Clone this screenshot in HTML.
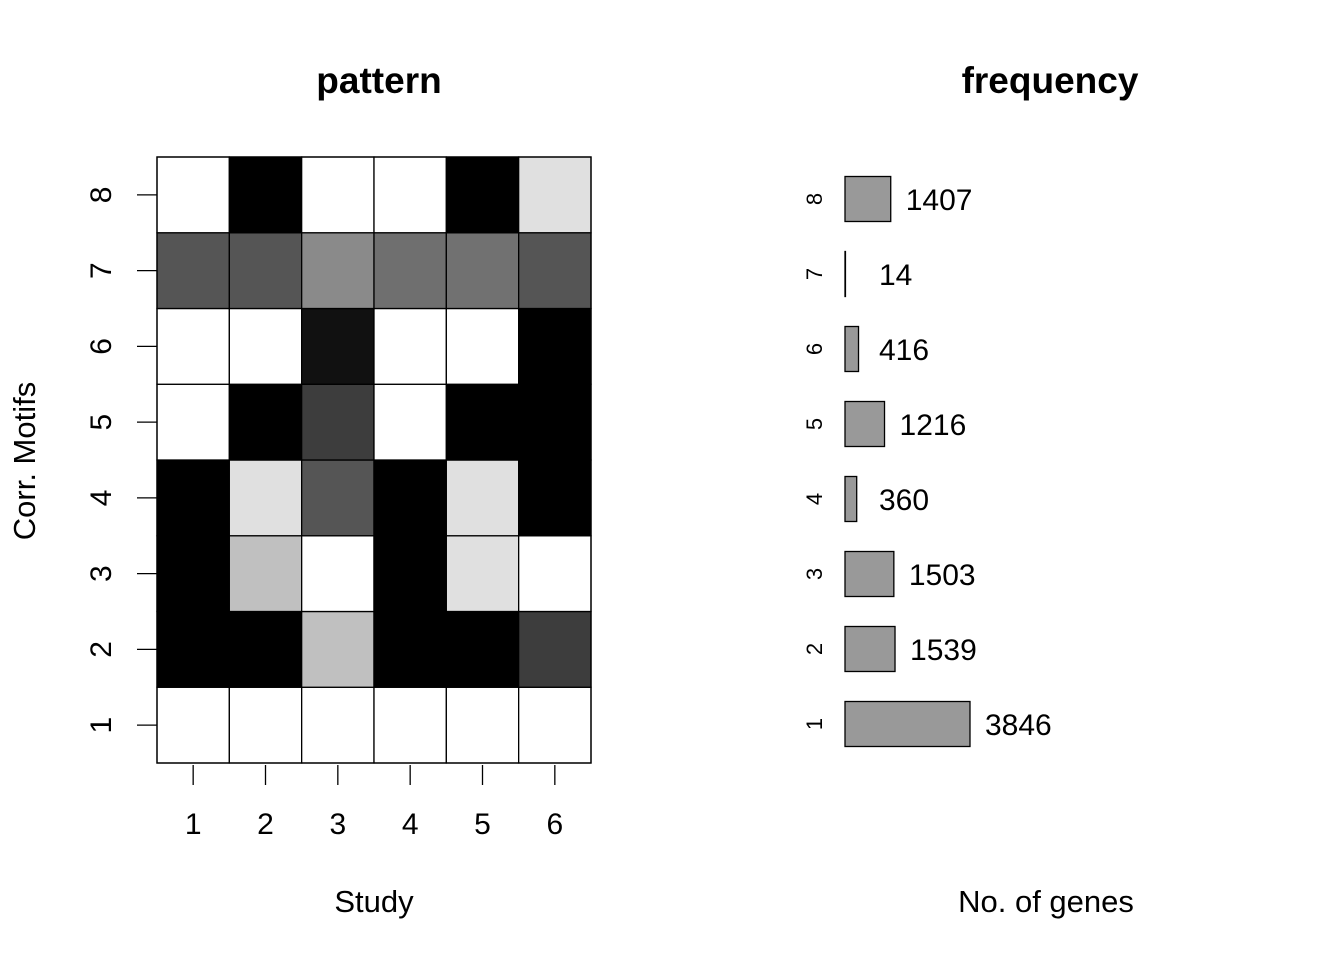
<!DOCTYPE html>
<html><head><meta charset="utf-8"><style>
body{margin:0;background:#fff;}
svg text{font-family:"Liberation Sans",Arial,sans-serif;fill:#000;}
</style></head><body>
<svg id="chart" width="1344" height="960" xmlns="http://www.w3.org/2000/svg">
<rect width="1344" height="960" fill="#fff"/>
<text x="379" y="93" font-size="37" font-weight="bold" text-anchor="middle">pattern</text>
<text x="1050" y="93" font-size="37" font-weight="bold" text-anchor="middle">frequency</text>
<text x="374" y="912" font-size="31" text-anchor="middle">Study</text>
<text x="1046" y="912" font-size="31" text-anchor="middle">No. of genes</text>
<text transform="translate(35,461) rotate(-90)" font-size="31" text-anchor="middle">Corr. Motifs</text>
<g id="heat"></g>
<g id="freq"></g>
</svg>
<script>
const studies=[1,2,3,4,5,6];
const motifs=[1,2,3,4,5,6,7,8];
const grayRow1=[255,255,255,255,255,255];
const grayRow2=[0,0,192,0,0,61];
const grayRow3=[0,192,255,0,224,255];
const grayRow4=[0,224,85,0,224,0];
const grayRow5=[255,0,61,255,0,0];
const grayRow6=[255,255,17,255,255,0];
const grayRow7=[85,85,138,111,113,85];
const grayRow8=[255,0,255,255,0,224];
const grays=[grayRow1,grayRow2,grayRow3,grayRow4,grayRow5,grayRow6,grayRow7,grayRow8];
const counts=[3846,1539,1503,360,1216,416,14,1407];
const NS="http://www.w3.org/2000/svg";
function mk(t,a,p){const e=document.createElementNS(NS,t);for(const k in a)e.setAttribute(k,a[k]);p.appendChild(e);return e;}
const L=157,R=591,T=157,B=763;
const cw=(R-L)/studies.length, ch=(B-T)/motifs.length;
const xs=i=>L+cw*i, ys=j=>B-ch*(j+1);
const heat=document.getElementById('heat');
motifs.forEach((m,j)=>{studies.forEach((s,i)=>{
 const g=grays[j][i];
 const r=mk('rect',{x:xs(i),y:ys(j),width:cw,height:ch,fill:`rgb(${g},${g},${g})`,stroke:'#000','stroke-width':1.3},heat);
 
 
});});
mk('rect',{x:L,y:T,width:R-L,height:B-T,fill:'none',stroke:'#000','stroke-width':1.3},heat);
studies.forEach((s,i)=>{
 const x=xs(i)+cw/2;
 const t=mk('line',{x1:x,x2:x,y1:765,y2:785,stroke:'#000','stroke-width':1.3},heat);
 
 
 const l=mk('text',{x:x,y:834,'font-size':30,'text-anchor':'middle'},heat);l.textContent=s;
 
 
});
motifs.forEach((m,j)=>{
 const y=ys(j)+ch/2;
 const t=mk('line',{x1:137,x2:157,y1:y,y2:y,stroke:'#000','stroke-width':1.3},heat);
 
 
 const l=mk('text',{transform:`translate(111,${y}) rotate(-90)`,'font-size':30,'text-anchor':'middle'},heat);l.textContent=m;
 
 
});
const freq=document.getElementById('freq');
const maxC=Math.max(...counts), fx0=845, fw=125, bh=45;
const fy=j=>724-j*75;
counts.forEach((c,j)=>{
 const y=fy(j), w=c/maxC*fw;
 const r=mk('rect',{x:fx0,y:y-bh/2,width:w,height:bh,fill:'#999',stroke:'#000','stroke-width':1.3},freq);
 
 
 const l=mk('text',{x:Math.max(fx0+w+15,879),y:y+11,'font-size':30},freq);l.textContent=c;
 
 
 const k=mk('text',{transform:`translate(822,${y}) rotate(-90)`,'font-size':22,'text-anchor':'middle'},freq);k.textContent=motifs[j];
 
 
});
</script>
</body></html>
